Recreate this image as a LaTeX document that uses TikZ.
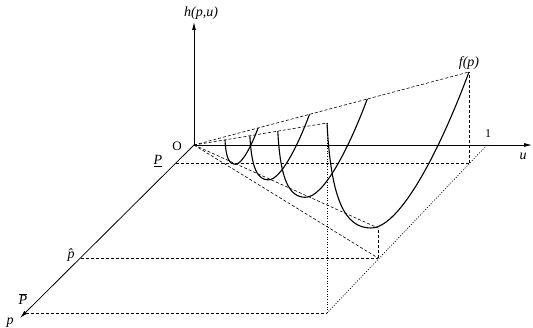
\documentclass[tikz,border=0pt]{standalone}
\usepackage{fontspec}
\setmainfont{Liberation Serif}
\usetikzlibrary{positioning, arrows.meta}

\begin{document}
\begin{tikzpicture}[x=1pt, y=-1pt,
  axis/.style={line width=0.8pt, -{Latex[length=8pt,width=4pt]}},
  guide/.style={line width=0.6pt, dash pattern=on 3pt off 2pt},
  dots/.style={line width=0.7pt, dash pattern=on 1pt off 1.6pt},
  curve/.style={line width=1.1pt},
  lab/.style={font=\fontsize{14}{16}\selectfont\itshape, inner sep=1pt},
  num/.style={font=\fontsize{12}{14}\selectfont, inner sep=1pt}]
  \useasboundingbox (0,0) rectangle (533,328);
  % axes
  \coordinate (O) at (194,145);
  \coordinate (htip) at (194,22);
  \coordinate (utip) at (532,145);
  \coordinate (ptip) at (20,318);
  % base lines p = const, u from 0 to 1
  \coordinate (Pl) at (176,163);
  \coordinate (Pr) at (469,163);
  \coordinate (Hl) at (81,258);
  \coordinate (Hr) at (378,258);
  \coordinate (Bl) at (26,313);
  \coordinate (Br) at (327,313);
  \coordinate (one) at (487,145);
  % big curve, u = 1
  \coordinate (L) at (327,123);
  \coordinate (M) at (378,228);
  \coordinate (R) at (469,72);

  \draw[guide] (Pl) -- (Pr);
  \draw[guide] (Hl) -- (Hr);
  \draw[guide] (Bl) -- (Br);
  \draw[dots] (one) -- (Br);
  \draw[dots] (Br) -- (L);
  \draw[guide] (Pr) -- (R);
  \draw[guide] (Hr) -- (M);
  % rays from the origin
  \draw[guide] (O) -- (R);
  \draw[guide] (O) -- (L);
  \draw[guide] (O) -- (M);
  \draw[guide] (O) -- (Hr);

  % h(p,u) for u = const, scaled from O
  \foreach \s in {0.233,0.42,0.63,1}
    \draw[curve, scale around={\s:(O)}] (327,123) .. controls (331,200) and (345,228) .. (371,228)
      .. controls (400,228) and (440,150) .. (469,72);

  \draw[axis] (O) -- (htip);
  \draw[axis] (O) -- (utip);
  \draw[axis] (O) -- (ptip);

  \node[lab, above=1pt of htip, xshift=7pt] (hlab) {h(p,u)};
  \node[lab] (ulab) at (523,156) {u};
  \node[lab] (plab) at (10,323) {p};
  \node[lab, above=1pt of R] (flab) {f(p)};
  \node[lab, font=\fontsize{13}{15}\selectfont] (Olab) at (177,146) {O};
  \node[num] (onelab) at (488,134) {1};
  \node[lab] (Plab) at (158,161) {\underline{P}};
  \node[lab] (phlab) at (71,255) {\^{p}};
  \node[lab] (Pblab) at (23,299) {$\overline{\hbox{\itshape P}}$};
\end{tikzpicture}
\end{document}
